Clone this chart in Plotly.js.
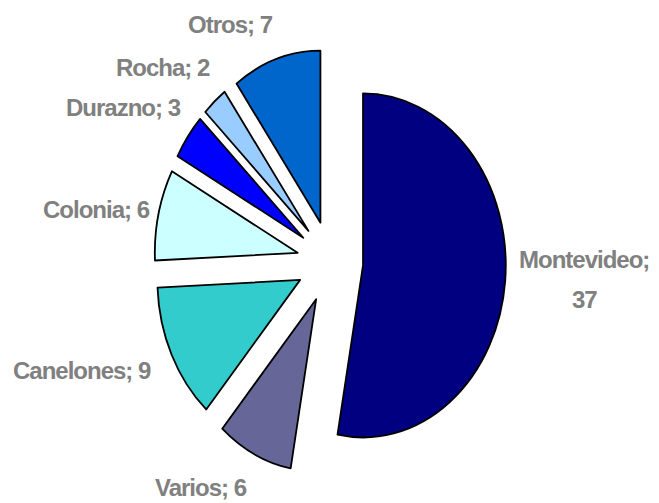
<!DOCTYPE html>
<html><head><meta charset="utf-8">
<script src="https://cdn.plot.ly/plotly-3.0.1.min.js"></script>
<style>html,body{margin:0;padding:0;background:#fff} .annotation-text{letter-spacing:-1px}</style>
</head><body><div id="chart" style="width:659px;height:503px"></div>
<script>
const labels = ['Montevideo', 'Varios', 'Canelones', 'Colonia', 'Durazno', 'Rocha', 'Otros'];
const values = [37, 6, 9, 6, 3, 2, 7];
const colors = ['#000080', '#666699', '#33CCCC', '#CCFFFF', '#0000FF', '#99CCFF', '#0066CC'];
const pulls = [0.225, 0.24, 0.24, 0.24, 0.24, 0.24, 0.24];

// label placement (paper px): [x, baseline, anchor]
const labelPos = {
  'Montevideo': [584, 267, 'center'],
  'Varios': [201, 495, 'center'],
  'Canelones': [153, 378, 'right'],
  'Colonia': [152, 217, 'right'],
  'Durazno': [183, 116, 'right'],
  'Rocha': [212, 75, 'right'],
  'Otros': [230, 33, 'center']
};
const W = 659, H = 503;
const font = {family: '"Liberation Sans", Arial, sans-serif', size: 24, color: '#808080', weight: 'bold'};

const annotations = [];
labels.forEach((lab, i) => {
  const p = labelPos[lab];
  if (lab === 'Montevideo') {
    annotations.push({xref:'paper', yref:'paper', x:p[0]/W, y:1-(p[1]-8)/H, xanchor:p[2], yanchor:'middle', text: lab + ';', showarrow:false, font});
    annotations.push({xref:'paper', yref:'paper', x:p[0]/W, y:1-(p[1]+40-8)/H, xanchor:p[2], yanchor:'middle', text: String(values[i]), showarrow:false, font});
  } else {
    annotations.push({xref:'paper', yref:'paper', x:p[0]/W, y:1-(p[1]-8)/H, xanchor:p[2], yanchor:'middle', text: lab + '; ' + values[i], showarrow:false, font});
  }
});

const trace = {
  type: 'pie', labels: labels, values: values, sort: false, direction: 'clockwise', rotation: 0,
  pull: pulls, marker: {colors: colors, line: {color: '#000000', width: 1.8}},
  textinfo: 'none', hoverinfo: 'none', showlegend: false,
  domain: {x: [0.1786, 0.8260], y: [0.0551, 0.9032]}
};
const layout = {
  width: W, height: H, margin: {l:0, r:0, t:0, b:0},
  paper_bgcolor: '#ffffff', plot_bgcolor: '#ffffff', showlegend: false,
  annotations: annotations
};
Plotly.newPlot('chart', [trace], layout, {staticPlot: true, displayModeBar: false}).then(() => {
  const cx = W * (0.1786 + 0.8260) / 2;
  document.querySelectorAll('.pielayer').forEach(g => {
    g.setAttribute('transform', `translate(${cx},0) scale(0.83,1) translate(${-cx},0)`);
  });
  document.querySelectorAll('.pielayer path.surface').forEach(p => p.setAttribute('vector-effect', 'non-scaling-stroke'));
});
</script></body></html>
